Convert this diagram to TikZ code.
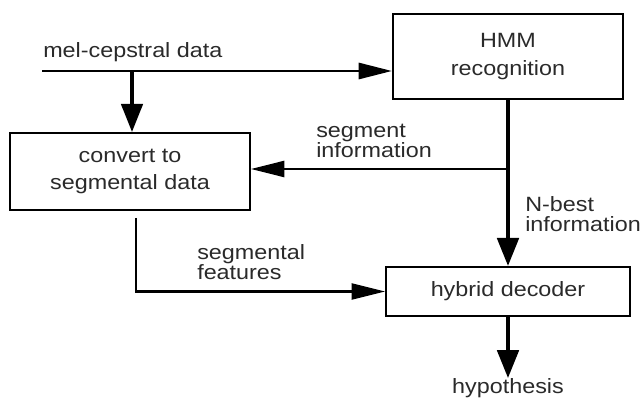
\documentclass[tikz,border=0pt]{standalone}
\usepackage{fontspec}
\setmainfont{Liberation Sans}[FakeStretch=1.13]
\usetikzlibrary{arrows.meta}
\definecolor{ink}{HTML}{2A2A2A}
\tikzset{
  blk/.style={draw=black, line width=1.5pt, inner sep=0pt, align=center,
    text=ink, font=\fontsize{15.5pt}{16.5pt}\selectfont},
  lbl/.style={inner sep=0pt, align=left, anchor=west, text=ink,
    font=\fontsize{15.5pt}{15pt}\selectfont},
  tipH/.tip={Triangle[length=25pt, width=12pt]},
  tipV/.tip={Triangle[length=21pt, width=16pt]},
  flowH/.style={draw=black, line width=2.2pt, -tipH},
  flowV/.style={draw=black, line width=2.6pt, -tipV}
}
\begin{document}
\begin{tikzpicture}[x=0.75pt, y=-0.75pt]
\useasboundingbox (0,0) rectangle (644,399);

% processing blocks
\node[blk, minimum width=230*0.75pt, minimum height=85*0.75pt] (hmm) at (508,56.5)
  {HMM\\[4.5pt]recognition};
\node[blk, minimum width=240*0.75pt, minimum height=77*0.75pt] (conv) at (130,171.5)
  {convert to\\[3.5pt]segmental data};
\node[blk, minimum width=244*0.75pt, minimum height=49*0.75pt] (hyb) at (508,291.5)
  {hybrid decoder};

% free labels
\node[lbl] (mel) at (43,52) {mel-cepstral data};
\node[lbl] (seginfo) at (316,141) {segment\\information};
\node[lbl] (nbest) at (525,214) {N-best\\information};
\node[lbl] (segfeat) at (197,262) {segmental\\features};
\node[inner sep=0pt, text=ink, font=\fontsize{15.5pt}{15pt}\selectfont] (hypo) at (508,388) {hypothesis};

% connector end points
\coordinate (melstart) at (42,71);
\coordinate (melbranch) at (132,71);
\coordinate (segjoin) at (508,169);
\coordinate (featstart) at (136,218);

% connectors
\draw[flowH] (melstart) -- (hmm.west |- melstart);
\draw[flowV] (melbranch) -- (conv.north -| melbranch);
\draw[flowV, line width=3pt] (hmm.south) -- (hyb.north);
\draw[flowH, line width=1.8pt] (segjoin) -- (conv.east |- segjoin);
\draw[flowH, line width=1.7pt] (featstart) |- (hyb.west);
\draw[flowV, line width=3pt] (hyb.south) -- (hypo.north);
\end{tikzpicture}
\end{document}
